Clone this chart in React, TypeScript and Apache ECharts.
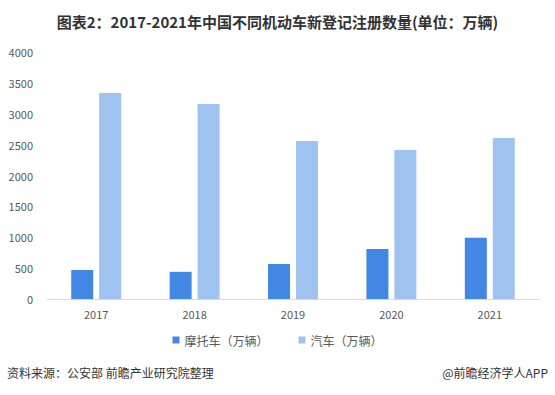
import React, { useEffect, useRef } from "react";
import * as echarts from "echarts";

const years = ["2017", "2018", "2019", "2020", "2021"];
const motorcycles = [470, 440, 567, 810, 990];
const cars = [3336, 3158, 2559, 2413, 2607];
const seriesNames = ["摩托车（万辆）", "汽车（万辆）"];
const titleText = "图表2：2017-2021年中国不同机动车新登记注册数量(单位：万辆)";
const sourceText = "资料来源：公安部 前瞻产业研究院整理";
const brandText = "@前瞻经济学人APP";

export default function App() {
  const ref = useRef<HTMLDivElement>(null);
  useEffect(() => {
    const chart = echarts.init(ref.current!, null, { renderer: "svg" });
    const font = "'Noto Sans CJK SC', 'Noto Sans', sans-serif";
    chart.setOption({
      animation: false,
      backgroundColor: "#ffffff",
      textStyle: { fontFamily: font },
      title: {
        text: titleText,
        left: "center",
        top: 9,
        textStyle: { fontSize: 15, fontWeight: "bold", color: "#333333", fontFamily: font },
      },
      grid: { left: 47, right: 16, top: 52, bottom: 96, containLabel: false },
      legend: {
        bottom: 44,
        left: "center",
        itemWidth: 7,
        itemHeight: 7,
        itemGap: 30,
        icon: "rect",
        textStyle: { fontSize: 12, color: "#595959", fontFamily: font },
        data: seriesNames,
      },
      xAxis: {
        type: "category",
        data: years,
        axisLine: { lineStyle: { color: "#d9d9d9", width: 1 } },
        axisTick: { show: false },
        axisLabel: { color: "#595959", fontSize: 11, margin: 9 },
      },
      yAxis: {
        type: "value",
        min: 0,
        max: 4000,
        interval: 500,
        splitLine: { show: false },
        axisLine: { show: false },
        axisTick: { show: false },
        axisLabel: {
          color: "#595959",
          fontSize: 11,
          margin: 14,
          formatter: (v: number) => String(v),
        },
      },
      series: [
        {
          name: seriesNames[0],
          type: "bar",
          data: motorcycles,
          barWidth: 22,
          barGap: "27%",
          itemStyle: { color: "#4287e3" },
        },
        {
          name: seriesNames[1],
          type: "bar",
          data: cars,
          barWidth: 22,
          barGap: "27%",
          itemStyle: { color: "#a0c2ef" },
        },
      ],
      graphic: [
        {
          type: "text",
          left: 7,
          top: 366,
          style: { text: sourceText, fontSize: 12, fill: "#333333", fontFamily: font },
        },
        {
          type: "text",
          right: 7,
          top: 366,
          style: { text: brandText, fontSize: 12, fill: "#333333", fontFamily: font },
        },
      ],
    });
    return () => chart.dispose();
  }, []);
  return <div ref={ref} style={{ width: 555, height: 395, position: "fixed", left: 0, top: 0 }} />;
}
